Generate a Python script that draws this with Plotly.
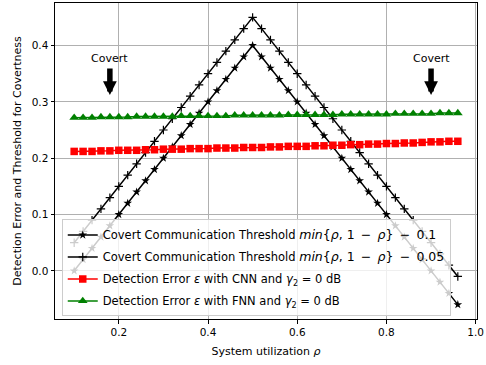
import numpy as np
import plotly.graph_objects as go

# System utilization grid
rho = np.round(np.arange(0.10, 0.9601, 0.02), 2)

# Covert communication thresholds
thr_01 = np.minimum(rho, 1 - rho) - 0.1
thr_005 = np.minimum(rho, 1 - rho) - 0.05

# Detection error of the two detectors (gamma_2 = 0 dB)
err_cnn = [0.212, 0.212, 0.212, 0.213, 0.213, 0.214, 0.214, 0.214, 0.215, 0.215,
           0.216, 0.216, 0.216, 0.217, 0.217, 0.217, 0.218, 0.218, 0.218, 0.219,
           0.219, 0.219, 0.220, 0.220, 0.221, 0.221, 0.221, 0.222, 0.222, 0.223,
           0.223, 0.224, 0.224, 0.225, 0.225, 0.226, 0.226, 0.227, 0.227, 0.228,
           0.229, 0.229, 0.230, 0.230]
err_fnn = [0.272, 0.272, 0.272, 0.273, 0.273, 0.273, 0.273, 0.274, 0.274, 0.274,
           0.274, 0.274, 0.275, 0.275, 0.275, 0.275, 0.275, 0.275, 0.276, 0.276,
           0.276, 0.276, 0.276, 0.276, 0.277, 0.277, 0.277, 0.277, 0.277, 0.277,
           0.278, 0.278, 0.278, 0.278, 0.278, 0.278, 0.279, 0.279, 0.279, 0.279,
           0.279, 0.280, 0.280, 0.280]

x_ticks = [0.2, 0.4, 0.6, 0.8, 1.0]
y_ticks = [0.0, 0.1, 0.2, 0.3, 0.4]

FONT = "DejaVu Sans"
SP = "\u2002"  # en space for math-style operator spacing


def threshold_label(offset):
    math = ("<i>min</i>{<i>ρ</i>, 1" + SP + "−" + SP + "<i>ρ</i>}" + SP + "−" + SP + offset)
    return ("Covert Communication Threshold "
            + '<span style="font-size:12.5px">' + math + "</span>")


fig = go.Figure()
fig.add_trace(go.Scatter(
    x=rho, y=thr_01, mode="lines+markers", legendgroup="a",
    name=threshold_label("0.1"),
    line=dict(color="black", width=1.5),
    marker=dict(symbol="star", size=6.5, color="black"),
))
fig.add_trace(go.Scatter(
    x=rho, y=thr_005, mode="lines+markers", legendgroup="b",
    name=threshold_label("0.05"),
    line=dict(color="black", width=1.5),
    marker=dict(symbol="cross-thin", size=6, color="black",
                line=dict(color="black", width=1.2)),
))
fig.add_trace(go.Scatter(
    x=rho, y=err_cnn, mode="lines+markers", legendgroup="c",
    name="Detection Error <i>ε</i> with CNN and <i>γ</i><sub>2</sub> = 0 dB",
    line=dict(color="red", width=1.5),
    marker=dict(symbol="square", size=7.5, color="red"),
))
fig.add_trace(go.Scatter(
    x=rho, y=err_fnn, mode="lines+markers", legendgroup="d",
    name="Detection Error <i>ε</i> with FNN and <i>γ</i><sub>2</sub> = 0 dB",
    line=dict(color="green", width=1.5),
    marker=dict(symbol="triangle-up", size=8.5, color="green"),
))

# "Covert" markers with downward arrows
for xa in (0.18, 0.9):
    fig.add_annotation(x=xa, y=0.377, text="Covert", showarrow=False,
                       font=dict(family=FONT, size=11, color="black"))
    fig.add_annotation(x=xa, y=0.312, ax=0, ay=-28, text="", showarrow=True,
                       arrowhead=2, arrowsize=0.5, arrowwidth=5.5,
                       arrowcolor="black", standoff=0)

axis_common = dict(
    showline=True, linecolor="black", linewidth=1, mirror=True,
    ticks="outside", ticklen=3.5, tickcolor="black", tickwidth=1,
    showgrid=True, gridcolor="#b0b0b0", gridwidth=0.8, zeroline=False,
    tickfont=dict(family=FONT, size=10.5, color="black"),
    tickformat=".1f", ticklabeloverflow="allow",
)

fig.update_layout(
    width=486, height=365,
    margin=dict(l=55, r=5, t=2, b=46),
    plot_bgcolor="white", paper_bgcolor="white",
    font=dict(family=FONT, size=10, color="black"),
    showlegend=True,
    legend=dict(
        x=0.016, y=0.008, xanchor="left", yanchor="bottom",
        bgcolor="rgba(255,255,255,0.8)", bordercolor="#cccccc", borderwidth=1,
        font=dict(family=FONT, size=11.5, color="black"),
        tracegroupgap=3, itemwidth=30,
    ),
    xaxis=dict(axis_common, range=[0.057, 1.003], tickvals=x_ticks,
               title=dict(text="System utilization <i>ρ</i>", standoff=10,
                          font=dict(family=FONT, size=11))),
    yaxis=dict(axis_common, range=[-0.0855, 0.4755], tickvals=y_ticks,
               title=dict(text="Detection Error and Threshold for Covertness",
                          standoff=7, font=dict(family=FONT, size=11))),
)

fig.write_html("out.html")
